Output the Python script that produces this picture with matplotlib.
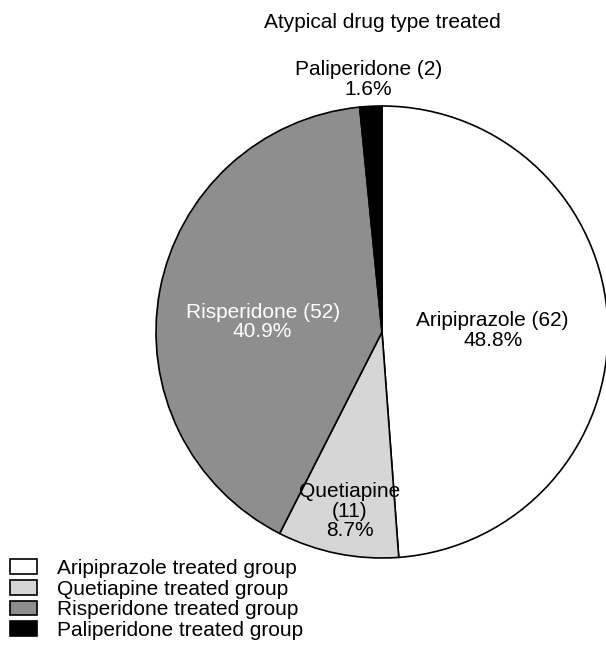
import numpy as np
import matplotlib
matplotlib.use('Agg')
import matplotlib.pyplot as plt

plt.rcParams['font.family'] = ['Liberation Sans', 'DejaVu Sans']

drugs = ["Aripiprazole", "Quetiapine", "Risperidone", "Paliperidone"]
counts = [62, 11, 52, 2]
percents = [48.8, 8.7, 40.9, 1.6]
legend_labels = ["Aripiprazole treated group", "Quetiapine treated group",
                 "Risperidone treated group", "Paliperidone treated group"]
colors = ['#ffffff', '#d6d6d6', '#8e8e8e', '#000000']

W, H = 606, 649
fig = plt.figure(figsize=(W / 100, H / 100), dpi=100)
# pie centre ~(382, 332) px, radius ~226 px
cx, cy, r = 382, 332, 226
ax = fig.add_axes([(cx - r) / W, (H - cy - r) / H, 2 * r / W, 2 * r / H])

wedges, _ = ax.pie(counts, colors=colors, startangle=90, counterclock=False,
                   radius=1, wedgeprops=dict(edgecolor='black', linewidth=1.2))
ax.set_xlim(-1, 1); ax.set_ylim(-1, 1)
ax.axis('off')
for w in wedges:
    w.set_clip_on(False)

fs = 15
# label placement: radius fraction, angle tweak and text colour per wedge
label_r = [0.49, 0.805, 0.53, 1.12]
label_dang = [-1.2, 1.2, 5.8, 0.3]
text_col = ['black', 'black', 'white', 'black']
for i, w in enumerate(wedges):
    ang = np.deg2rad((w.theta1 + w.theta2) / 2 + label_dang[i])
    x, y = label_r[i] * np.cos(ang), label_r[i] * np.sin(ang)
    if drugs[i] == "Quetiapine":
        txt = f"{drugs[i]}\n({counts[i]})\n{percents[i]}%"
    else:
        txt = f"{drugs[i]} ({counts[i]})\n{percents[i]}%"
    ax.text(x, y, txt, ha='center', va='center', fontsize=fs,
            color=text_col[i], linespacing=1.05, clip_on=False)

fig.text(cx / W, 1 - 22 / H, "Atypical drug type treated", ha='center', va='center',
         fontsize=fs)

fig.legend(wedges, legend_labels, loc='upper left',
           bbox_to_anchor=(10 / W, 1 - 559 / H),
           frameon=False, fontsize=fs, handlelength=1.3, handleheight=0.7,
           handletextpad=0.95, labelspacing=0.08, borderaxespad=0, borderpad=0)

plt.savefig('out.png', dpi=100)
